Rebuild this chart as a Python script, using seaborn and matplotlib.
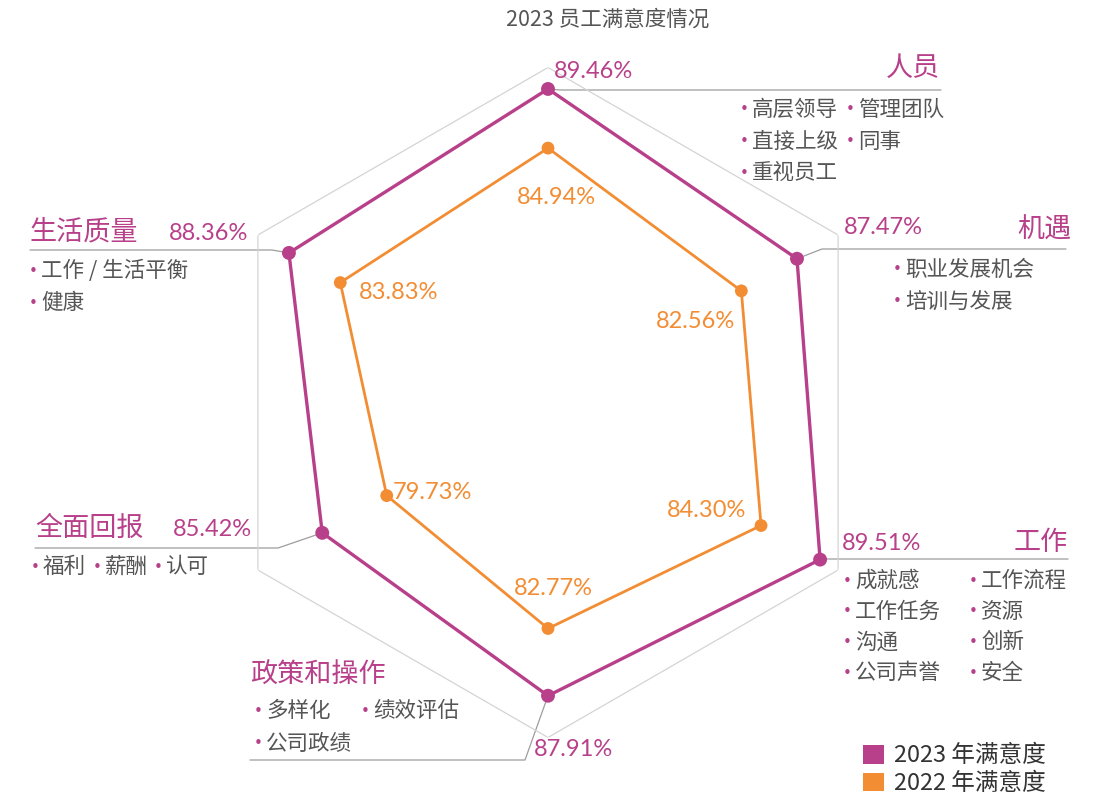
import numpy as np
import matplotlib
matplotlib.use("Agg")
import matplotlib.pyplot as plt
import seaborn as sns
from matplotlib.patches import Patch
from matplotlib.lines import Line2D
from matplotlib.transforms import Affine2D

# ---- data -------------------------------------------------------------
title = "2023 员工满意度情况"
categories = ["人员", "机遇", "工作", "政策和操作", "全面回报", "生活质量"]
sat_2023 = [89.46, 87.47, 89.51, 87.91, 85.42, 88.36]
sat_2022 = [84.94, 82.56, 84.30, 82.77, 79.73, 83.83]
series_names = ["2023 年满意度", "2022 年满意度"]
sub_items = {
    "人员": ["高层领导", "管理团队", "直接上级", "同事", "重视员工"],
    "机遇": ["职业发展机会", "培训与发展"],
    "工作": ["成就感", "工作流程", "工作任务", "资源", "沟通", "创新", "公司声誉", "安全"],
    "政策和操作": ["多样化", "绩效评估", "公司政绩"],
    "全面回报": ["福利", "薪酬", "认可"],
    "生活质量": ["工作 / 生活平衡", "健康"],
}

# ---- style ------------------------------------------------------------
sns.set_style("white")
plt.rcParams["font.family"] = ["Noto Sans CJK SC", "DejaVu Sans"]

C23 = "#b8408a"
C22 = "#f28d33"
GRID = "#d4d4d4"
LEAD = "#9d9d9d"
TXT = "#555555"
PCT_FONT = ["Lato", "DejaVu Sans"]

W, H = 1098, 801
fig = plt.figure(figsize=(W / 100, H / 100), dpi=100)
# pixel coordinates measured from the top-left corner
PX = Affine2D().scale(1 / W, -1 / H).translate(0, 1) + fig.transFigure

# radar axes: centre (548, 402.5), outer radius 335 px
cx, cy, R = 548, 402.5, 335
ax = fig.add_axes([(cx - R) / W, (H - cy - R) / H, 2 * R / W, 2 * R / H],
                  projection="polar")
ax.set_theta_zero_location("N")
ax.set_theta_direction(-1)
r_lo, r_hi = 65.5, 91.1
ax.set_ylim(r_lo, r_hi)
ax.set_axis_off()

n = len(categories)
theta = np.arange(n) * 2 * np.pi / n
theta_c = np.append(theta, theta[0])

# outer hexagon frame
ax.plot(theta_c, [r_hi] * (n + 1), color=GRID, lw=0.9, zorder=1)

for vals, col, lw, ms in [(sat_2022, C22, 2.0, 85), (sat_2023, C23, 2.4, 100)]:
    v_c = np.append(vals, vals[0])
    sns.lineplot(x=theta_c, y=v_c, sort=False, estimator=None, ax=ax,
                 color=col, lw=lw, zorder=3)
    sns.scatterplot(x=theta, y=vals, ax=ax, color=col, s=ms,
                    edgecolor="none", zorder=4)


def point_px(i, v):
    """Pixel position (from top-left) of a data point."""
    x, y = ax.transData.transform((theta[i], v))
    return x, H - y


# ---- title ------------------------------------------------------------
fig.text(608, 20, title, transform=PX, ha="center", va="center",
         fontsize=15.5, color=TXT)

# ---- category blocks --------------------------------------------------
# name (x, y, ha), 2023 pct (x, y, ha), leader path after the point,
# bullet origin, column offsets, row step
layout = {
    "人员": dict(name=(940, 68, "right"), pct=(554, 72, "left"),
               lead=[(560, 90), (941, 90)],
               org=(744, 110), cols=[0, 106], dy=31.5),
    "机遇": dict(name=(1071, 230, "right"), pct=(844, 228, "left"),
               lead=[(822, 249), (1066, 249)],
               org=(897, 270), cols=[0], dy=32),
    "工作": dict(name=(1068, 542, "right"), pct=(842, 544, "left"),
               lead=[(826, 559), (1068, 559)],
               org=(847, 581), cols=[0, 126], dy=30.7),
    "政策和操作": dict(name=(250, 675, "left"), pct=(534, 750, "left"),
                  lead=[(525, 760), (250, 760)],
                  org=(258, 711), cols=[0, 107], dy=33),
    "全面回报": dict(name=(35, 528, "left"), pct=(252, 530, "right"),
                 lead=[(278, 548), (35, 548)],
                 org=(35, 567), cols=[0, 62, 123], dy=32),
    "生活质量": dict(name=(30, 232, "left"), pct=(248, 233, "right"),
                 lead=[(272, 250), (30, 250)],
                 org=(33, 271), cols=[0], dy=32),
}

for i, cat in enumerate(categories):
    L = layout[cat]
    px0, py0 = point_px(i, sat_2023[i])
    xs = [px0] + [p[0] for p in L["lead"]]
    ys = [py0] + [p[1] for p in L["lead"]]
    fig.add_artist(Line2D(xs, ys, transform=PX, color=LEAD, lw=0.9, zorder=0))

    nx, ny, nha = L["name"]
    fig.text(nx, ny, cat, transform=PX, ha=nha, va="center",
             fontsize=19.5, color=C23)
    tx, ty, tha = L["pct"]
    fig.text(tx, ty, f"{sat_2023[i]:.2f}%", transform=PX, ha=tha,
             va="center", fontsize=17, color=C23, family=PCT_FONT)

    ox, oy = L["org"]
    ncol = len(L["cols"])
    for k, item in enumerate(sub_items[cat]):
        bx = ox + L["cols"][k % ncol]
        by = oy + L["dy"] * (k // ncol)
        fig.text(bx, by, "•", transform=PX, ha="center", va="center",
                 fontsize=11, color=C23, family="DejaVu Sans")
        fig.text(bx + 8, by, item, transform=PX, ha="left", va="center",
                 fontsize=15.5, color=TXT)

# ---- 2022 value labels, offset from each point (pixels) ---------------
offs_2022 = [(8, -49), (-46, -31), (-54, 15), (5, 40), (46, 3), (58, -10)]
for i, v in enumerate(sat_2022):
    ax.annotate(f"{v:.2f}%", xy=(theta[i], v), xytext=offs_2022[i],
                textcoords="offset pixels", ha="center", va="center",
                fontsize=17, color=C22, family=PCT_FONT, zorder=5)

# ---- legend -----------------------------------------------------------
handles = [Patch(facecolor=C23, edgecolor="none"),
           Patch(facecolor=C22, edgecolor="none")]
lx, ly = PX.transform((854, 735))
lx, ly = fig.transFigure.inverted().transform((lx, ly))
fig.legend(handles, series_names, loc="upper left", bbox_to_anchor=(lx, ly),
           frameon=False, fontsize=17, handlelength=0.85, handleheight=0.85,
           handletextpad=0.45, labelspacing=0.2, borderaxespad=0,
           labelcolor="#333333")

fig.savefig("out.png", dpi=100)
